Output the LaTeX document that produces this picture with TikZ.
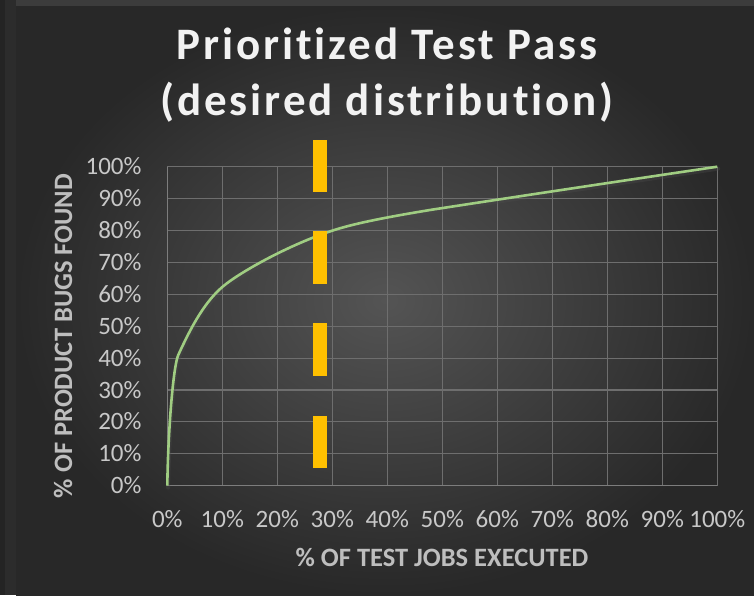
\documentclass[tikz,border=0pt]{standalone}
\usepackage{fontspec}
\setmainfont{Carlito}
\newfontfamily\titlefont[LetterSpace=6.5,Ligatures=NoCommon]{Carlito}
\definecolor{bgouter}{RGB}{40,40,40}
\definecolor{bginner}{RGB}{84,84,84}
\definecolor{topband}{RGB}{60,60,60}
\definecolor{leftband}{RGB}{36,36,36}
\definecolor{leftband2}{RGB}{44,44,44}
\definecolor{gridc}{RGB}{110,110,110}
\definecolor{axisc}{RGB}{125,125,125}
\definecolor{tickc}{RGB}{200,200,200}
\definecolor{axtitle}{RGB}{190,190,190}
\definecolor{titlec}{RGB}{242,242,242}
\definecolor{curvec}{RGB}{160,205,130}
\definecolor{dashc}{RGB}{255,192,0}
\tikzset{
  ticklab/.style={text=tickc,font=\fontsize{25}{25}\selectfont,inner sep=0pt},
  axtitlelab/.style={text=axtitle,font=\fontsize{26.5}{26.5}\selectfont\bfseries,inner sep=0pt},
  titlelab/.style={text=titlec,font=\titlefont\fontsize{45}{45}\selectfont\bfseries,inner sep=0pt},
  gridline/.style={draw=gridc,line width=1.1pt},
  dashbar/.style={fill=dashc},
  curvepath/.pic={
    \draw[pic actions] (0,0) .. controls (0.15,18) and (1.1,37.6) .. (2,41)
      .. controls (4.4,50) and (7,58.5) .. (10.8,63.4)
      .. controls (14.8,68.6) and (24,77) .. (31.4,80.7)
      .. controls (35.5,82.75) and (41,84.5) .. (48,86.5)
      .. controls (65,91) and (82,95.4) .. (100,100);
  },
}
\begin{document}
\begin{tikzpicture}[x=1pt,y=-1pt]
\useasboundingbox (0,0) rectangle (754,595);
% background
\fill[leftband] (0,0) rectangle (754,595);
\fill[leftband2] (5,0) rectangle (16,595);
\fill[topband] (16,0) rectangle (754,6);
\shade[inner color=bginner,outer color=bgouter] (16,6) rectangle (754,595);
% title
\node[titlelab,anchor=base] (t1) at (387,59) {Prioritized Test Pass};
\node[titlelab,anchor=base] (t2) at (387,115) {(desired distribution)};
% plot
\begin{scope}[shift={(167.3,485.7)},x=5.5pt,y=3.19pt]
  \foreach \i in {1,...,10} {
    \draw[gridline] (0,\i*10) -- (100,\i*10);
    \draw[gridline] (\i*10,0) -- (\i*10,100);
  }
  \draw[draw=axisc,line width=1.4pt] (0,100) -- (0,0) -- (100,0);
  \pic[draw=black!70,draw opacity=0.35,line width=4pt,line cap=round] at (0.15,-0.6) {curvepath};
  \pic[draw=curvec,line width=2.6pt] at (0,0) {curvepath};
\end{scope}
% orange dash bars
\fill[dashbar] (313,140) rectangle (327,192);
\fill[dashbar] (313,231) rectangle (327,284);
\fill[dashbar] (313,323) rectangle (327,376);
\fill[dashbar] (313,416) rectangle (327,468);
% y tick labels
\foreach \v/\n in {0/y0,10/y1,20/y2,30/y3,40/y4,50/y5,60/y6,70/y7,80/y8,90/y9,100/y10} {
  \node[ticklab,anchor=base east] (\n) at (141.7,{485.7-3.19*\v+8}) {\v\%};
}
% x tick labels
\foreach \v/\n in {0/x0,10/x1,20/x2,30/x3,40/x4,50/x5,60/x6,70/x7,80/x8,90/x9,100/x10} {
  \node[ticklab,anchor=base] (\n) at ({167.3+5.5*\v},527.3) {\v\%};
}
% axis titles
\node[axtitlelab,anchor=base] (xt) at (442,566.5) {\% OF TEST JOBS EXECUTED};
\node[axtitlelab,anchor=base,rotate=90] (yt) at (72,336) {\% OF PRODUCT BUGS FOUND};
\end{tikzpicture}
\end{document}
